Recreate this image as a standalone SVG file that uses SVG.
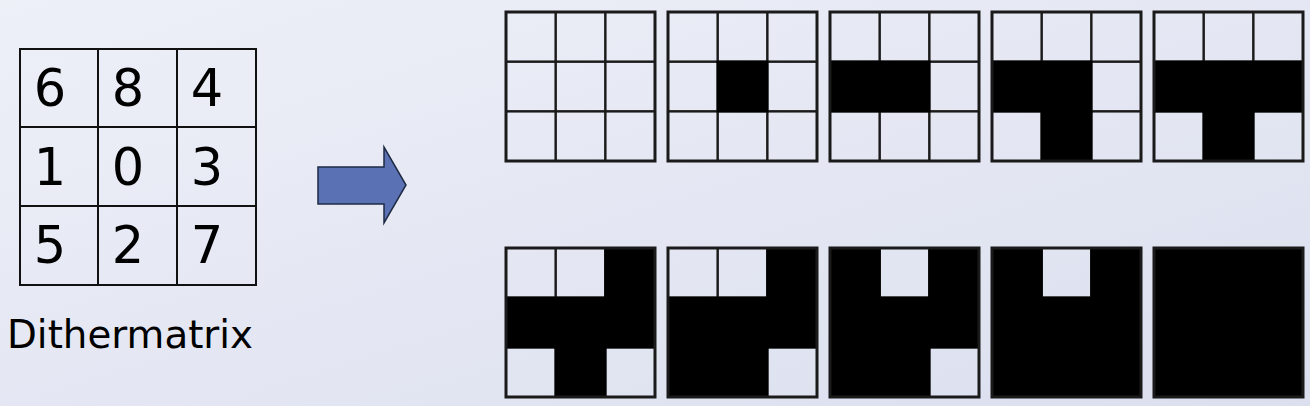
<svg xmlns="http://www.w3.org/2000/svg" width="1310" height="406" viewBox="0 0 1310 406">
<defs>
<linearGradient id="bg" x1="0" y1="0" x2="1" y2="1">
<stop offset="0" stop-color="#eef0f8"/>
<stop offset="1" stop-color="#dbdfee"/>
</linearGradient>
<g id="grid" fill="none" stroke="#1a1a1a" stroke-width="2">
<rect x="0" y="0" width="49.67" height="49.67"/>
<rect x="49.67" y="0" width="49.67" height="49.67"/>
<rect x="99.33" y="0" width="49.67" height="49.67"/>
<rect x="0" y="49.67" width="49.67" height="49.67"/>
<rect x="49.67" y="49.67" width="49.67" height="49.67"/>
<rect x="99.33" y="49.67" width="49.67" height="49.67"/>
<rect x="0" y="99.33" width="49.67" height="49.67"/>
<rect x="49.67" y="99.33" width="49.67" height="49.67"/>
<rect x="99.33" y="99.33" width="49.67" height="49.67"/>
</g>
</defs>
<style>
.blk{fill:#000;stroke:#000;stroke-width:2}
.frame{fill:none;stroke:#1a1a1a;stroke-width:3}
.mx{fill:none;stroke:#111;stroke-width:2}
.num{font-family:"DejaVu Sans",Verdana,sans-serif;font-size:51px;fill:#000;text-anchor:middle}
.lbl{font-family:"DejaVu Sans",Verdana,sans-serif;font-size:38.8px;fill:#000}
.arrow{fill:#5a72b4;stroke:#1e2a44;stroke-width:1.5}
</style>
<rect width="1310" height="406" fill="url(#bg)"/>

<g id="dithermatrix">
<rect class="mx" x="20" y="49" width="236" height="236"/>
<line class="mx" x1="98" y1="49" x2="98" y2="285"/>
<line class="mx" x1="177" y1="49" x2="177" y2="285"/>
<line class="mx" x1="20" y1="127" x2="256" y2="127"/>
<line class="mx" x1="20" y1="206" x2="256" y2="206"/>
<text class="num" x="50" y="106">6</text>
<text class="num" x="128" y="106">8</text>
<text class="num" x="207" y="106">4</text>
<text class="num" x="50" y="185">1</text>
<text class="num" x="128" y="185">0</text>
<text class="num" x="207" y="185">3</text>
<text class="num" x="50" y="263">5</text>
<text class="num" x="128" y="263">2</text>
<text class="num" x="207" y="263">7</text>
<text class="lbl" x="7" y="348">Dithermatrix</text>
</g>

<g id="arrow">
<path class="arrow" d="M318,167 H384 V147 L406,185 L384,223 V204 H318 Z"/>
</g>

<g id="p0" transform="translate(506,12)">
<use href="#grid"/>
<rect class="frame" width="149" height="149"/>
</g>
<g id="p1" transform="translate(668,12)">
<use href="#grid"/>
<rect class="blk" x="49.67" y="49.67" width="49.67" height="49.67"/>
<rect class="frame" width="149" height="149"/>
</g>
<g id="p2" transform="translate(830,12)">
<use href="#grid"/>
<rect class="blk" x="0" y="49.67" width="99.33" height="49.67"/>
<rect class="frame" width="149" height="149"/>
</g>
<g id="p3" transform="translate(992,12)">
<use href="#grid"/>
<rect class="blk" x="0" y="49.67" width="99.33" height="49.67"/>
<rect class="blk" x="49.67" y="99.33" width="49.67" height="49.67"/>
<rect class="frame" width="149" height="149"/>
</g>
<g id="p4" transform="translate(1154,12)">
<use href="#grid"/>
<rect class="blk" x="0" y="49.67" width="149" height="49.67"/>
<rect class="blk" x="49.67" y="99.33" width="49.67" height="49.67"/>
<rect class="frame" width="149" height="149"/>
</g>

<g id="p5" transform="translate(506,248)">
<use href="#grid"/>
<rect class="blk" x="99.33" y="0" width="49.67" height="49.67"/>
<rect class="blk" x="0" y="49.67" width="149" height="49.67"/>
<rect class="blk" x="49.67" y="99.33" width="49.67" height="49.67"/>
<rect class="frame" width="149" height="149"/>
</g>
<g id="p6" transform="translate(668,248)">
<use href="#grid"/>
<rect class="blk" x="99.33" y="0" width="49.67" height="49.67"/>
<rect class="blk" x="0" y="49.67" width="149" height="49.67"/>
<rect class="blk" x="0" y="99.33" width="99.33" height="49.67"/>
<rect class="frame" width="149" height="149"/>
</g>
<g id="p7" transform="translate(830,248)">
<use href="#grid"/>
<rect class="blk" x="0" y="0" width="49.67" height="49.67"/>
<rect class="blk" x="99.33" y="0" width="49.67" height="49.67"/>
<rect class="blk" x="0" y="49.67" width="149" height="49.67"/>
<rect class="blk" x="0" y="99.33" width="99.33" height="49.67"/>
<rect class="frame" width="149" height="149"/>
</g>
<g id="p8" transform="translate(992,248)">
<use href="#grid"/>
<rect class="blk" x="0" y="0" width="49.67" height="49.67"/>
<rect class="blk" x="99.33" y="0" width="49.67" height="49.67"/>
<rect class="blk" x="0" y="49.67" width="149" height="99.33"/>
<rect class="frame" width="149" height="149"/>
</g>
<g id="p9" transform="translate(1154,248)">
<rect class="blk" width="149" height="149"/>
<rect class="frame" width="149" height="149"/>
</g>
</svg>
